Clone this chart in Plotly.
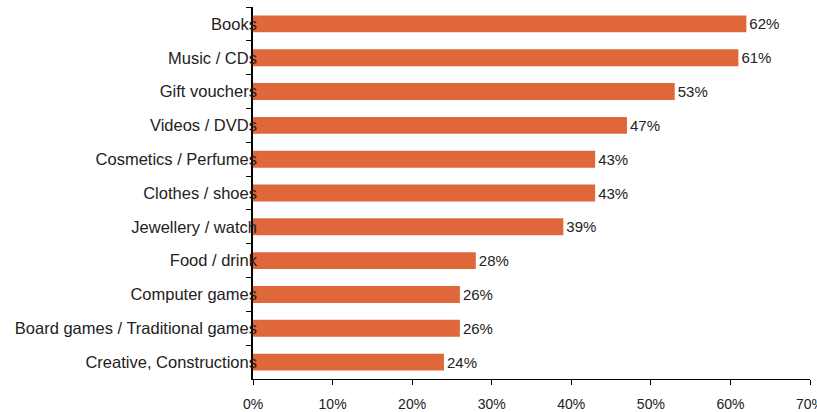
import plotly.graph_objects as go

categories = ["Books", "Music / CDs", "Gift vouchers", "Videos / DVDs",
              "Cosmetics / Perfumes", "Clothes / shoes", "Jewellery / watch",
              "Food / drink", "Computer games", "Board games / Traditional games",
              "Creative, Constructions"]
values = [62, 61, 53, 47, 43, 43, 39, 28, 26, 26, 24]
value_labels = ["62%", "61%", "53%", "47%", "43%", "43%", "39%", "28%", "26%", "26%", "24%"]
x_ticks = [0, 10, 20, 30, 40, 50, 60, 70]
x_tick_labels = ["0%", "10%", "20%", "30%", "40%", "50%", "60%", "70%"]

FONT = "Liberation Sans, Arial, sans-serif"

fig = go.Figure(go.Bar(
    y=categories, x=values, orientation="h",
    marker=dict(color="#E0673A", line=dict(width=0)),
    width=0.5,
    text=value_labels, textposition="outside", constraintext="none",
    textfont=dict(family=FONT, size=15, color="#222222"),
    cliponaxis=False,
))

fig.update_layout(
    width=817, height=412,
    margin=dict(l=253, r=7, t=7, b=33, autoexpand=False),
    paper_bgcolor="white", plot_bgcolor="white",
    font=dict(family=FONT, size=15, color="#222222"),
    showlegend=False,
    bargap=0.5,
)
fig.update_xaxes(
    range=[0, 70], tickvals=x_ticks, ticktext=x_tick_labels,
    showgrid=False, zeroline=False, automargin=False,
    showline=True, linecolor="black", linewidth=1,
    ticks="outside", ticklen=5, tickcolor="black",
    ticklabelstandoff=7, ticklabeloverflow="allow",
    tickfont=dict(family=FONT, size=14, color="#222222"),
)
fig.update_yaxes(
    categoryorder="array", categoryarray=categories, autorange="reversed",
    showgrid=False, zeroline=False, automargin=False,
    showline=True, linecolor="black", linewidth=1.5,
    ticks="outside", ticklen=5, tickcolor="black", tickson="boundaries",
    ticklabelstandoff=-9,
    tickfont=dict(family=FONT, size=16.5, color="#222222"),
)

fig.write_html("out.html", config={"displayModeBar": False},
               post_script="document.body.style.margin='0';")
